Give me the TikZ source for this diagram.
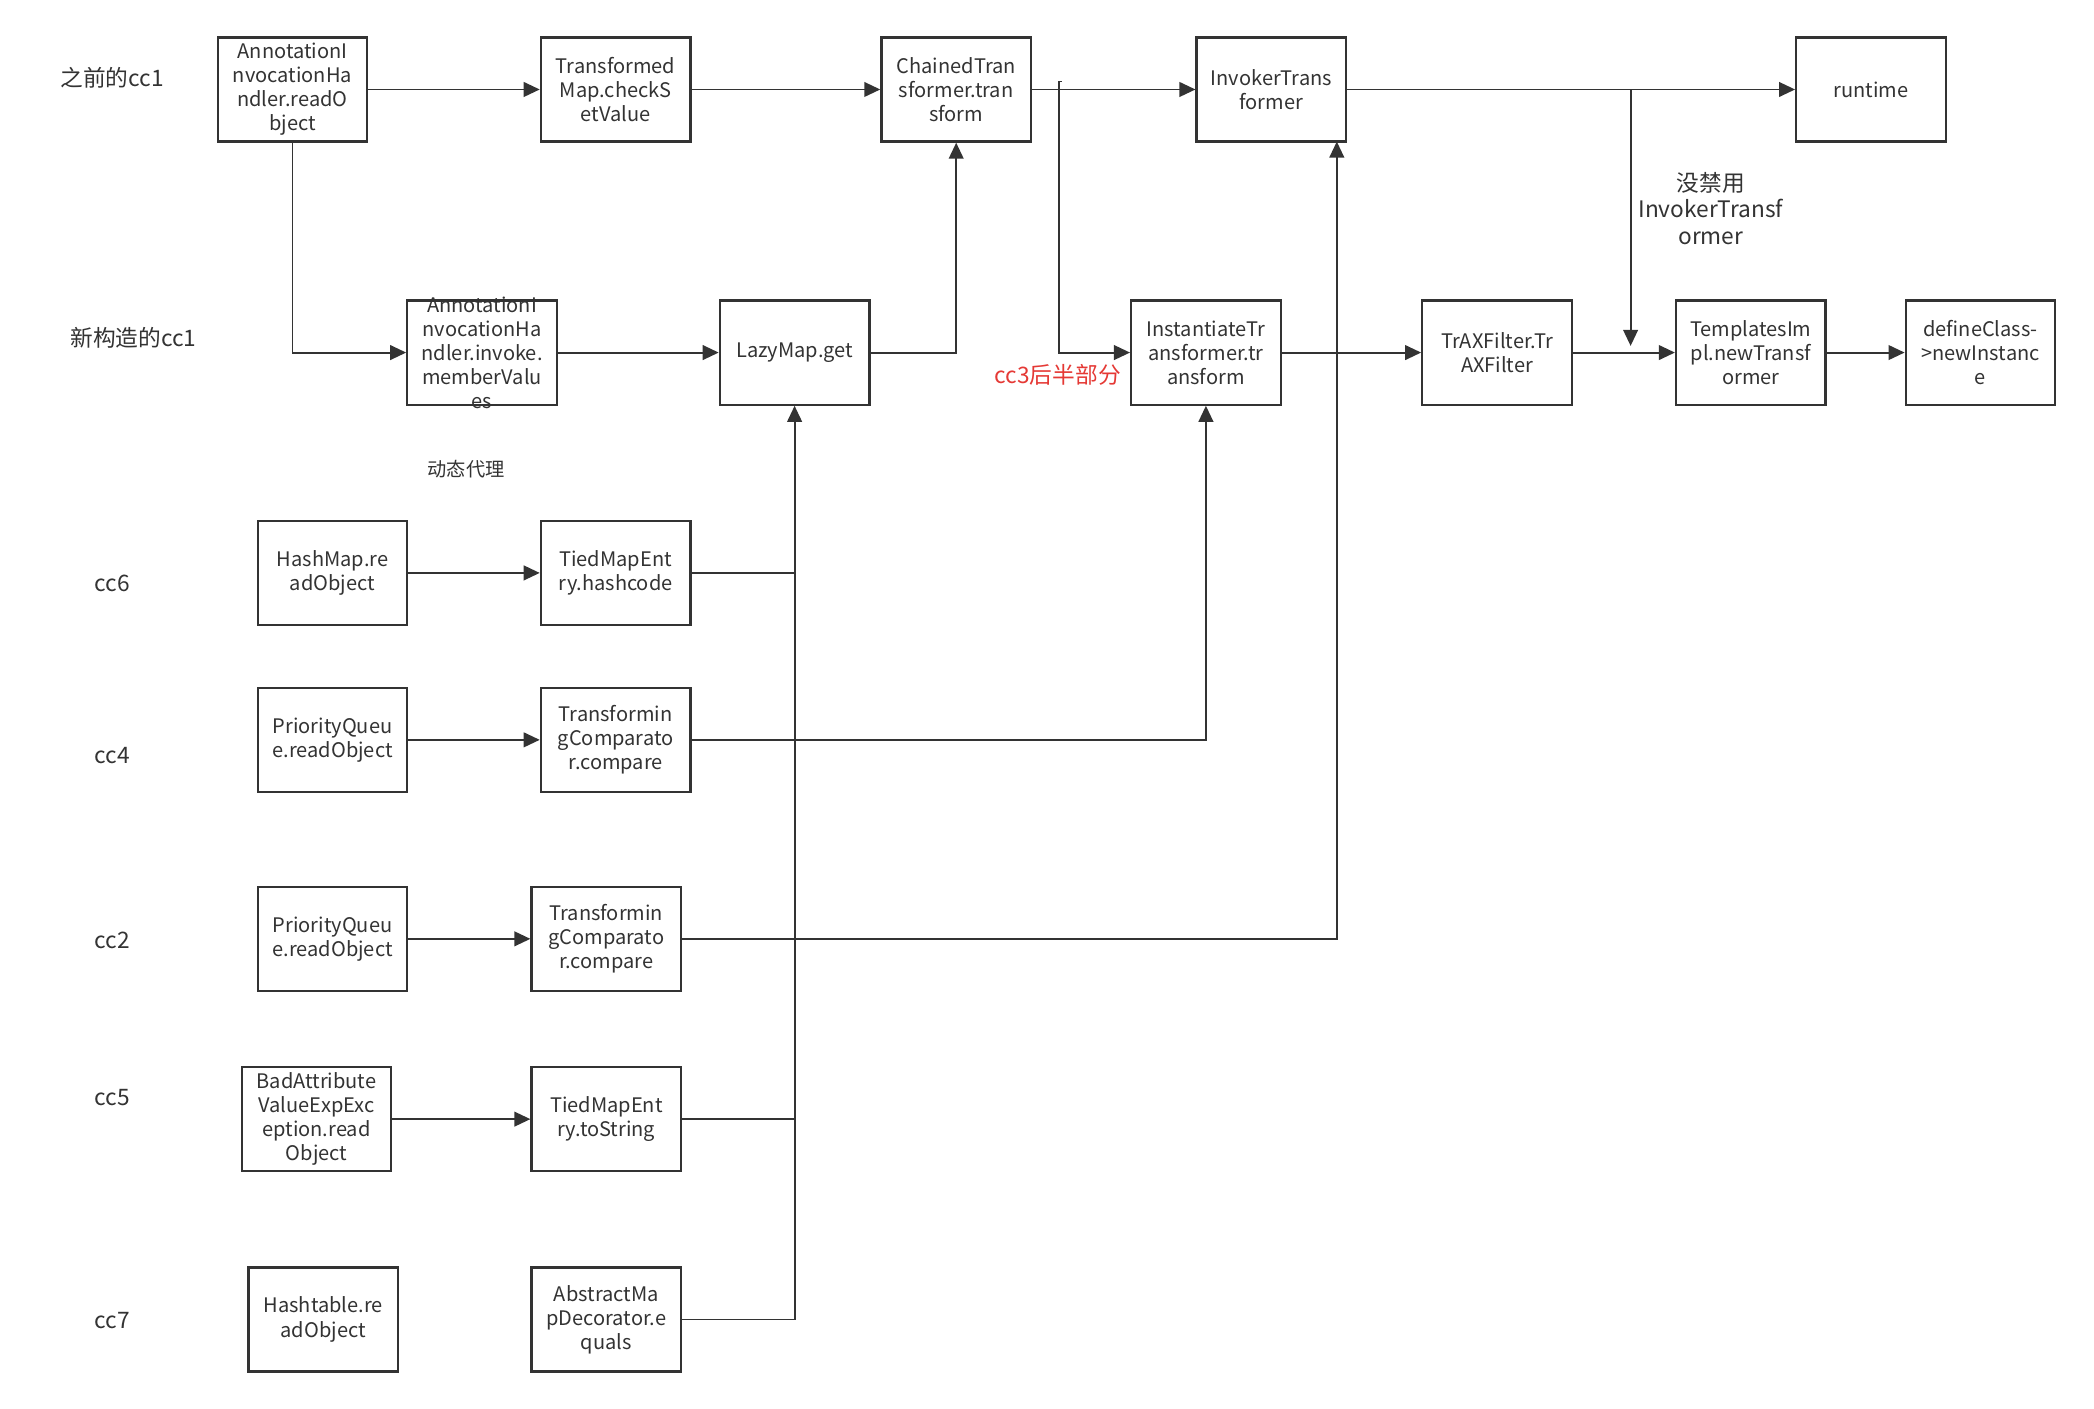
\documentclass[tikz,border=0pt]{standalone}
\usepackage{fontspec}
\setmainfont{Noto Sans CJK SC}
\usetikzlibrary{arrows.meta}
\definecolor{ink}{HTML}{333333}
\definecolor{redtxt}{HTML}{E53935}
\begin{document}
\begin{tikzpicture}[x=0.5pt,y=-0.5pt,
  box/.style={draw=ink, line width=0.85pt, minimum width=56pt, minimum height=39pt, inner sep=0pt, align=center, font=\fontsize{7.5}{9}\selectfont, text=ink},
  lbl/.style={font=\fontsize{8.5}{10}\selectfont, text=ink, inner sep=0pt},
  conn/.style={draw=ink, line width=0.7pt},
  arr/.style={conn, -{Triangle[length=6pt,width=5.5pt]}},
]
\useasboundingbox[fill=white] (0,0) rectangle (1568,1055);

% row 1
\node[box] (A1) at (219,67) {AnnotationI\\nvocationHa\\ndler.readO\\bject};
\node[box] (TM) at (461,67) {Transformed\\Map.checkS\\etValue};
\node[box] (CT) at (716,67) {ChainedTran\\sformer.tran\\sform};
\node[box] (IT) at (952,67) {InvokerTrans\\former};
\node[box] (RT) at (1401,67) {runtime};

% row 2
\node[box] (A2) at (361,264) {};
\node[font=\fontsize{7.5}{9}\selectfont, text=ink, align=center, inner sep=0pt] (A2t) at (361,264) {AnnotationI\\nvocationHa\\ndler.invoke.\\memberValu\\es};
\node[box] (LM) at (595,264) {LazyMap.get};
\node[box] (IN) at (903,264) {InstantiateTr\\ansformer.tr\\ansform};
\node[box] (TX) at (1121,264) {TrAXFilter.Tr\\AXFilter};
\node[box] (TP) at (1311,264) {TemplatesIm\\pl.newTransf\\ormer};
\node[box] (DC) at (1483,264) {defineClass-\\>newInstanc\\e};

% lower rows
\node[box] (HM) at (249,429) {HashMap.re\\adObject};
\node[box] (TE1) at (461,429) {TiedMapEnt\\ry.hashcode};
\node[box] (PQ1) at (249,554) {PriorityQueu\\e.readObject};
\node[box] (TC1) at (461,554) {Transformin\\gComparato\\r.compare};
\node[box] (PQ2) at (249,703) {PriorityQueu\\e.readObject};
\node[box] (TC2) at (454,703) {Transformin\\gComparato\\r.compare};
\node[box] (BA) at (237,838) {BadAttribute\\ValueExpExc\\eption.read\\Object};
\node[box] (TE2) at (454,838) {TiedMapEnt\\ry.toString};
\node[box] (HT) at (242,988) {Hashtable.re\\adObject};
\node[box] (AM) at (454,988) {AbstractMa\\pDecorator.e\\quals};

% labels
\node[lbl] (L1) at (84,58) {之前的cc1};
\node[lbl] (L2) at (100,253) {新构造的cc1};
\node[lbl, font=\fontsize{7.2}{8}\selectfont] (L3) at (349,351) {动态代理};
\node[lbl] (L4) at (84,437) {cc6};
\node[lbl] (L5) at (84,566) {cc4};
\node[lbl] (L6) at (84,704) {cc2};
\node[lbl] (L7) at (84,822) {cc5};
\node[lbl] (L8) at (84,989) {cc7};
\node[lbl, text=redtxt] (L9) at (792,281) {cc3后半部分};
\node[lbl, align=center] (L10) at (1281,156) {没禁用\\InvokerTransf\\ormer};

% coordinates
\coordinate (k1) at (793,61);
\coordinate (j1) at (1221,67);
\coordinate (j1e) at (1221,259);
\coordinate (ITin) at (1001,106);

% connectors
\draw[arr] (A1.east) -- (TM.west);
\draw[arr] (TM.east) -- (CT.west);
\draw[arr] (CT.east) -- (IT.west);
\draw[arr] (IT.east) -- (RT.west);
\draw[arr] (j1) -- (j1e);
\draw[conn] (k1) -- ++(2,0);
\draw[arr] (k1) |- (IN.west);
\draw[arr] (A1.south) |- (A2.west);
\draw[arr] (A2.east) -- (LM.west);
\draw[arr] (LM.east) -| (CT.south);
\draw[arr] (IN.east) -- (TX.west);
\draw[arr] (TX.east) -- (TP.west);
\draw[arr] (TP.east) -- (DC.west);
\draw[arr] (HM.east) -- (TE1.west);
\draw[arr] (PQ1.east) -- (TC1.west);
\draw[arr] (PQ2.east) -- (TC2.west);
\draw[arr] (BA.east) -- (TE2.west);
\draw[arr] (AM.east) -| (LM.south);
\draw[conn] (TE1.east) -- (TE1.east -| LM.south);
\draw[conn] (TE2.east) -- (TE2.east -| LM.south);
\draw[arr] (TC1.east) -| (IN.south);
\draw[arr] (TC2.east) -| (ITin);
\end{tikzpicture}
\end{document}
